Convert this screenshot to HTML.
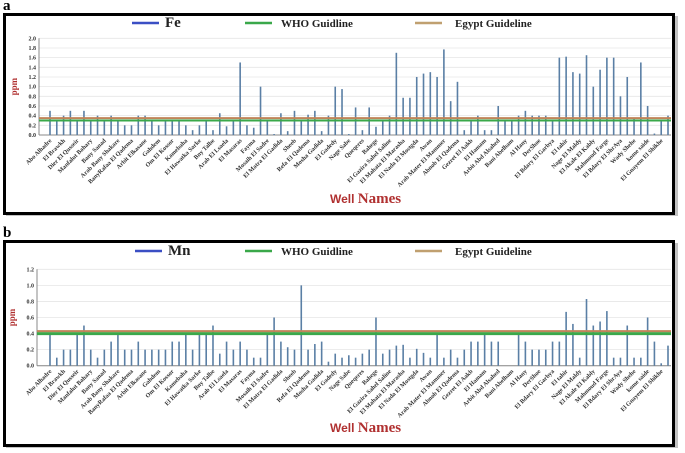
<!DOCTYPE html>
<html><head><meta charset="utf-8"><style>
body{margin:0;background:#fff;}
svg{display:block;font-family:"Liberation Serif",serif;}
</style></head><body>
<svg id="chart" width="685" height="453" viewBox="0 0 685 453" xmlns="http://www.w3.org/2000/svg"></svg>
<script>
const wellNames = ["Abo Alhadre","El Brawkh","Dier El Qusseir","Manfalut Bahary","Bany Sanad","Arab Bany Shakare","BanyRafaa El Qadema","Arbit Elkasane","Gahdem","Om El Kossor","Kamebaha","El Hawatka Sarke","Bny Talbe","Arab El Lsaela","El Masaras","Fayma","Mosaih El Sadre","El Matra El Gadida","Sheeb","Refa El Qadema","Mosha Gadida","El Gadedy","Nage Sabe","Queqeres","Bahege","El Gazira Sahel Saline","El Mahata El Marasha","El Nada El Mostgda","Awan","Arab Mater El Mammer","Abnob El Qadema","Gezret El Aakb","El Hamam","Arbit Abd Alsahed","Bani Abelham","Al Hany","DerShoe","El Bdary El Garbya","El tahir","Nage El Maldy","El Akale El Kably","Mahmoud Farge","El Bdary El ShrAya","Wady Shehe","kome saide","El Gnayem El Shikhe"];
const feValues = [0.5,0.3,0.4,0.5,0.3,0.5,0.3,0.4,0.3,0.4,0.3,0.2,0.2,0.4,0.4,0.3,0.2,0.3,0.3,0.3,0.2,0.1,0.2,0.3,0.1,0.45,0.18,0.3,1.5,0.2,0.15,1.0,0.3,0.02,0.45,0.08,0.5,0.3,0.42,0.5,0.08,0.4,1.0,0.95,0.02,0.57,0.1,0.57,0.17,0.3,0.4,1.7,0.77,0.77,1.2,1.27,1.3,1.2,1.77,0.7,1.1,0.1,0.3,0.4,0.1,0.1,0.6,0.3,0.3,0.4,0.5,0.4,0.4,0.4,0.3,1.6,1.62,1.3,1.27,1.65,1.0,1.35,1.6,1.6,0.8,1.2,0.35,1.5,0.6,0.03,0.3,0.4];
const mnValues = [0.4,0.1,0.2,0.2,0.4,0.5,0.2,0.1,0.2,0.3,0.4,0.2,0.2,0.3,0.2,0.2,0.2,0.2,0.3,0.3,0.4,0.2,0.4,0.4,0.5,0.15,0.3,0.2,0.3,0.2,0.1,0.1,0.4,0.6,0.3,0.23,0.2,1.0,0.2,0.27,0.3,0.05,0.15,0.1,0.13,0.1,0.15,0.2,0.6,0.15,0.2,0.25,0.26,0.1,0.21,0.16,0.1,0.4,0.1,0.2,0.1,0.2,0.3,0.3,0.4,0.3,0.3,0,0,0.4,0.3,0.2,0.2,0.2,0.3,0.3,0.67,0.52,0.1,0.83,0.5,0.55,0.68,0.1,0.1,0.5,0.1,0.1,0.6,0.3,0.03,0.25];
const feTicks = ["0.0","0.2","0.4","0.6","0.8","1.0","1.2","1.4","1.6","1.8","2.0"];
const mnTicks = ["0.0","0.2","0.4","0.6","0.8","1.0","1.2"];
const feWho = [0.3], feEgypt = [0.35];
const mnWho = [0.4], mnEgypt = [0.43];

const NS = "http://www.w3.org/2000/svg";
const svg = document.getElementById('chart');
function mk(tag, attrs, parent, text){
  const e = document.createElementNS(NS, tag);
  for (const k in attrs) e.setAttribute(k, attrs[k]);
  if (text !== undefined) e.textContent = text;
  (parent || svg).appendChild(e);
  return e;
}

function panel(o){
  const g = mk('g', {});
  
  
  const lab = mk('text', {x:3, y:o.frameTop-3, 'font-size':15, 'font-weight':'bold'}, g, o.letter);
  
  
  mk('rect', {x:6, y:o.frameTop+3, width:672, height:o.frameH, fill:'#888', opacity:0.5}, g);
  const fr = mk('rect', {x:4.5, y:o.frameTop+1.5, width:669, height:o.frameH-1, fill:'#fff', stroke:'#000', 'stroke-width':3}, g);
  
  
  const y0 = o.y0, y1 = o.yTop, vmax = o.vmax;
  const yS = v => y0 - (v / vmax) * (y0 - y1);
  const x0 = 50, x1 = 668, n = o.values.length;
  const xS = i => x0 + i * (x1 - x0) / (n - 1);
  // grid & ticks
  o.ticks.forEach(t => {
    const v = parseFloat(t), y = yS(v);
    mk('line', {x1:o.axisX, x2:671, y1:y, y2:y, stroke:'#e6e6e6', 'stroke-width':0.8}, g);
    const tl = mk('text', {x:o.axisX-3, y:y+2, 'font-size':6, 'font-weight':'bold', 'text-anchor':'end', fill:'#333'}, g, t);
    
    
  });
  mk('line', {x1:o.axisX, x2:o.axisX, y1:y1, y2:y0, stroke:'#888', 'stroke-width':1}, g);
  mk('line', {x1:o.axisX, x2:671, y1:y0, y2:y0, stroke:'#888', 'stroke-width':1}, g);
  // bars
  o.values.forEach((v, i) => {
    const b = mk('rect', {x:xS(i)-0.8, y:yS(v), width:1.6, height:y0-yS(v), fill:'#5a7fa5'}, g);
    
    
  });
  // guideline lines
  const gl = mk('line', {x1:o.axisX, x2:671, y1:yS(o.who[0]), y2:yS(o.who[0]), stroke:'#3aa84a', 'stroke-width':o.whoW}, g);
  
  
  const el = mk('line', {x1:o.axisX, x2:671, y1:yS(o.egypt[0]), y2:yS(o.egypt[0]), stroke:'#c0845a', 'stroke-width':2}, g);
  
  
  // x labels (every other bar)
  o.names.forEach((nm, k) => {
    const x = xS(2*k) + 2, y = y0 + 6;
    const t = mk('text', {x:x, y:y, 'font-size':6.2, 'font-weight':'bold', 'text-anchor':'end', fill:'#333', transform:`rotate(-45 ${x} ${y})`}, g, nm);
    
    
  });
  // y title
  const yt = mk('text', {x:0, y:0, 'font-size':9, 'font-weight':'bold', fill:'#b03030', 'text-anchor':'middle', transform:`translate(${o.ppmX} ${(y0+y1)/2}) rotate(-90)`}, g, 'ppm');
  
  
  // x title
  const xt = mk('text', {x:330, y:o.wellY, fill:'#b03030', 'font-weight':'bold'}, g);
  
  
  mk('tspan', {'font-size':12, 'font-family':'Liberation Sans, sans-serif'}, xt, 'Well ');
  mk('tspan', {'font-size':15}, xt, 'Names');
  // legend
  const ly = o.legY;
  const items = [
    {x:o.serX, c:'#3b4fc4', t:o.series, fs:15, tx:o.serX+33, nm:'series'},
    {x:245, c:'#3aa84a', t:'WHO Guidline', fs:11, tx:281, nm:'who'},
    {x:415, c:'#c0a070', t:'Egypt Guideline', fs:11, tx:455, nm:'egypt'}
  ];
  items.forEach(it => {
    const lg = mk('g', {}, g);
    
    
    mk('line', {x1:it.x, x2:it.x+27, y1:ly, y2:ly, stroke:it.c, 'stroke-width':2.5}, lg);
    mk('text', {x:it.tx, y:ly+4, 'font-size':it.fs, 'font-weight':'bold', fill:'#222'}, lg, it.t);
  });
}

panel({id:'fe', letter:'a', frameTop:13, frameH:200, values:feValues, ticks:feTicks, vmax:2.0,
  y0:135, yTop:38.3, axisX:39, who:feWho, egypt:feEgypt, whoW:2, names:wellNames,
  ppmX:17, wellY:203, legY:23, serX:132, series:'Fe'});
panel({id:'mn', letter:'b', frameTop:240, frameH:205, values:mnValues, ticks:mnTicks, vmax:1.2,
  y0:365.7, yTop:269.3, axisX:37, who:mnWho, egypt:mnEgypt, whoW:3, names:wellNames,
  ppmX:15, wellY:432, legY:251, serX:135, series:'Mn'});
</script>
</body></html>
